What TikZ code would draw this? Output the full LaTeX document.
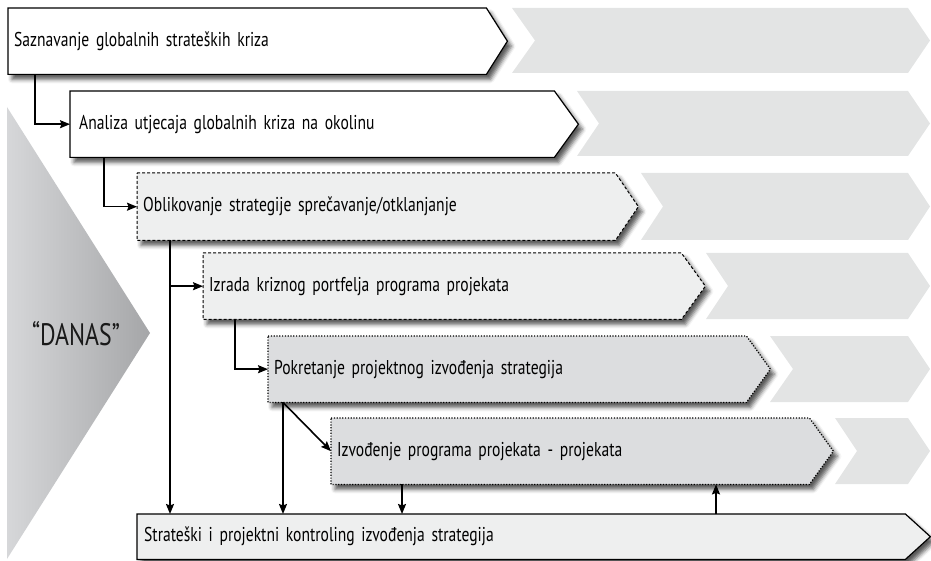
\documentclass[tikz,border=0pt]{standalone}
\usepackage{fontspec}
\setmainfont{PT Sans}[FakeStretch=0.78]
\newfontfamily\danasfont{PT Sans}[FakeStretch=0.77]
\usetikzlibrary{arrows.meta,shadows.blur,backgrounds}

\definecolor{bgarrow}{HTML}{E3E4E4}
\definecolor{lightfill}{HTML}{EEEFEF}
\definecolor{midfill}{HTML}{DCDDDF}
\definecolor{danasL}{HTML}{D6D7D9}
\definecolor{danasR}{HTML}{A5A6A8}

% outline of a box: rectangle of the node with a pointed right end
\newcommand\pentpath[2]{(#1.north west) -- (#1.north east) -- ([xshift=#2]#1.east) -- (#1.south east) -- (#1.south west) -- cycle}
% light chevron behind each row
\newcommand\rowchevron[4]{\fill[bgarrow] (#1,#2) -- (908,#2) -- (930,{(#2+#3)/2}) -- (908,#3) -- (#1,#3) -- (#4,{(#2+#3)/2}) -- cycle;}
% label font with tight word spacing
\newcommand\boxfont{\fontsize{20}{22}\selectfont\spaceskip=3.5pt plus 1pt minus 1pt\relax}

\begin{document}
\begin{tikzpicture}[x=1pt,y=-1pt,
  frame/.style={minimum width=478pt, minimum height=66pt, inner xsep=6pt, inner ysep=0pt,
    anchor=north west, text width=466pt, align=left, font=\boxfont},
  shade box/.style={blur shadow={shadow xshift=4pt, shadow yshift=-5pt, shadow blur radius=4pt, shadow opacity=65}},
  solidbox/.style={shade box, fill=white, draw=black, line width=1.2pt, line join=miter},
  dashbox/.style={shade box, fill=lightfill, draw=black, line width=1pt, dash pattern=on 3pt off 2pt},
  dotbox/.style={shade box, fill=midfill, draw=black, line width=1.2pt, dash pattern=on 1.2pt off 1.6pt},
  basebox/.style={shade box, fill=lightfill, draw=black, line width=1.2pt},
  conn/.style={draw=black, line width=1.6pt, -{Stealth[length=10pt,width=8pt,inset=1.5pt]}}
]
\useasboundingbox (0,0) rectangle (931,561);

% text boxes
\node[frame, inner xsep=6pt] (b1) at (8,8) {Saznavanje globalnih strateških kriza};
\node[frame, inner xsep=9pt] (b2) at (70,91) {Analiza utjecaja globalnih kriza na okolinu};
\node[frame, minimum height=67pt] (b3) at (137,173) {Oblikovanje strategije sprečavanje/otklanjanje};
\node[frame] (b4) at (203,253) {Izrada kriznog portfelja programa projekata};
\node[frame] (b5) at (268,336) {Pokretanje projektnog izvođenja strategija};
\node[frame] (b6) at (331,418) {Izvođenje programa projekata - projekata};
\node[frame, minimum width=768pt, text width=754pt, inner xsep=7pt, minimum height=45pt] (b7) at (137,514)
  {Strateški i projektni kontroling izvođenja strategija};

\begin{scope}[on background layer]
  % row chevrons
  \rowchevron{512}{8}{73}{535}
  \rowchevron{577}{91}{156}{599}
  \rowchevron{641}{173}{240}{663}
  \rowchevron{706}{253}{319}{728}
  \rowchevron{770}{336}{402}{793}
  \rowchevron{835}{418}{484}{857}
  % "today" chevron
  \shade[left color=danasL, right color=danasR] (7,107) -- (150,333) -- (7,559) -- cycle;
  % box outlines
  \path[basebox] \pentpath{b7}{25pt};
  \path[dotbox] \pentpath{b6}{24pt};
  \path[dotbox] \pentpath{b5}{24pt};
  \path[dashbox] \pentpath{b4}{24pt};
  \path[dashbox] \pentpath{b3}{23pt};
  \path[solidbox] \pentpath{b2}{24pt};
  \path[solidbox] \pentpath{b1}{21pt};
\end{scope}

\node[font=\danasfont\fontsize{31}{34}\selectfont, text=black!90] (danas) at (76,334) {“DANAS”};

% connectors
\coordinate (d1) at ([xshift=27pt]b1.south west);
\coordinate (d2) at ([xshift=34pt]b2.south west);
\coordinate (d3) at ([xshift=33pt]b3.south west);
\coordinate (d4) at ([xshift=32pt]b4.south west);
\coordinate (d5) at ([xshift=15pt]b5.south west);
\coordinate (d6) at ([xshift=71pt]b6.south west);
\coordinate (u7) at ([xshift=579pt]b7.north west);

\draw[conn] (d1) |- (b2.west);
\draw[conn] (d2) |- (b3.west);
\draw[conn] (d3) -- (d3 |- b7.north);
\draw[conn] (d3 |- b4.west) -- (b4.west);
\draw[conn] (d4) |- (b5.west);
\draw[conn] (d5) -- (d5 |- b7.north);
\draw[conn] (d5) -- (b6.west);
\draw[conn] (d6) -- (d6 |- b7.north);
\draw[conn] (u7) -- (u7 |- b6.south);
\end{tikzpicture}
\end{document}
